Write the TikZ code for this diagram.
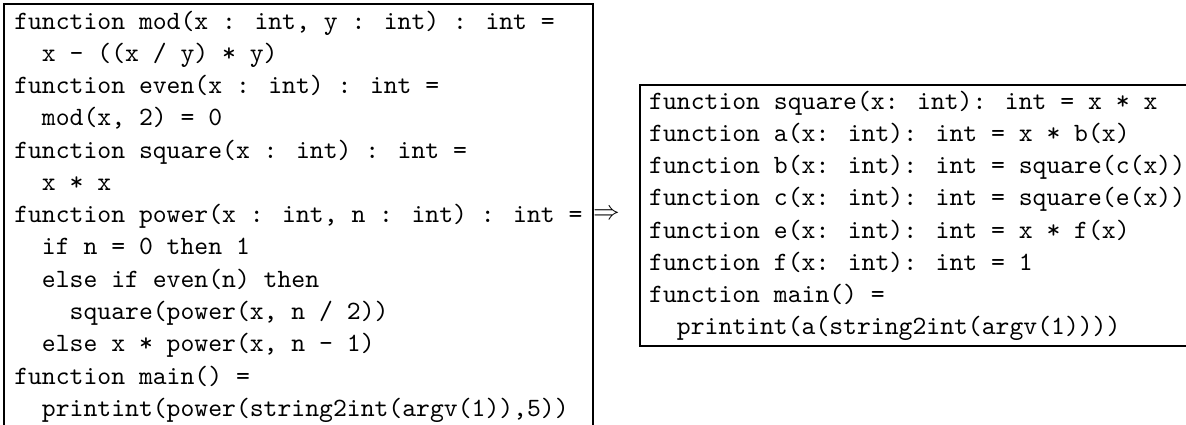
\documentclass[tikz,border=0pt]{standalone}
\usepackage{fontspec}
\newcommand{\ind}[1]{\phantom{#1}}
\tikzset{
  codebox/.style={anchor=north west, align=left, inner xsep=3.4pt, inner ysep=0.5pt,
    font=\ttfamily\fontsize{9.9}{12.1}\selectfont, line width=0.9pt},
  frameline/.style={line width=0.9pt}
}
\begin{document}
\begin{tikzpicture}
\useasboundingbox (0,0) rectangle (444.75pt,-159.375pt);
\node[codebox] (src) at (1.5pt,-1.5pt) {%
\strut function mod(x : int, y : int) : int =\\
\strut\ind{xx}x - ((x / y) * y)\\
\strut function even(x : int) : int =\\
\strut\ind{xx}mod(x, 2) = 0\\
\strut function square(x : int) : int =\\
\strut\ind{xx}x * x\\
\strut function power(x : int, n : int) : int =\\
\strut\ind{xx}if n = 0 then 1\\
\strut\ind{xx}else if even(n) then\\
\strut\ind{xxxx}square(power(x, n / 2))\\
\strut\ind{xx}else x * power(x, n - 1)\\
\strut function main() =\\
\strut\ind{xx}printint(power(string2int(argv(1)),5))};
\draw[frameline] ([yshift=-20pt]src.south west) |- (src.north east) -- ([yshift=-20pt]src.south east);
\node[codebox, draw] (dst) at (239.6pt,-31.5pt) {%
\strut function square(x: int): int = x * x\\
\strut function a(x: int): int = x * b(x)\\
\strut function b(x: int): int = square(c(x))\\
\strut function c(x: int): int = square(e(x))\\
\strut function e(x: int): int = x * f(x)\\
\strut function f(x: int): int = 1\\
\strut function main() =\\
\strut\ind{xx}printint(a(string2int(argv(1))))};
\node[inner sep=0pt] (arrow) at (227.4pt,-80.6pt) {$\Rightarrow$};
\end{tikzpicture}
\end{document}
